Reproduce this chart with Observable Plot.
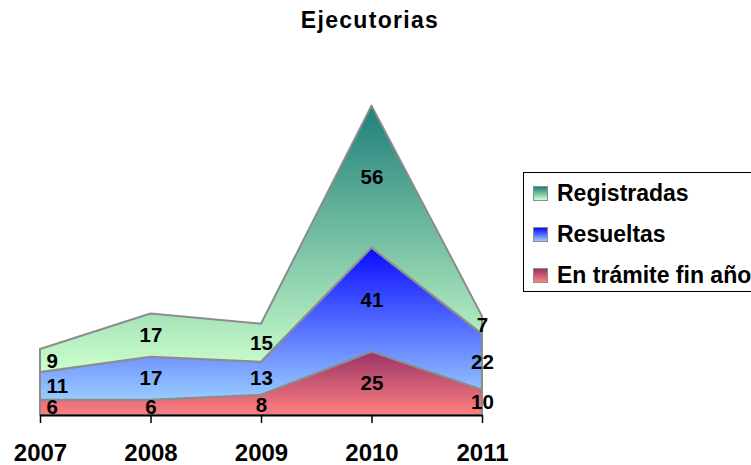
<!DOCTYPE html>
<html>
<head>
<meta charset="utf-8">
<script src="https://cdn.jsdelivr.net/npm/d3@7"></script>
<script src="https://cdn.jsdelivr.net/npm/@observablehq/plot@0.6"></script>
<style>
  html, body { margin: 0; padding: 0; background: #fff; overflow: hidden; }
  #wrap { position: relative; width: 751px; height: 465px; overflow: hidden; font-family: "Liberation Sans", Arial, sans-serif; }
  #title { position: absolute; left: 0; top: 7px; width: 740px; text-align: center; font-weight: bold; font-size: 23px; letter-spacing: 1.3px; color: #000; }
  #legend { position: absolute; left: 523px; top: 172px; width: 260px; height: 120px; border: 1.5px solid #000; background: #fff; box-sizing: border-box; }
  .item { position: absolute; left: 9px; display: flex; align-items: center; font-weight: bold; font-size: 23px; white-space: nowrap; }
  .sw { width: 13px; height: 13px; border: 1.5px solid #8c8c8c; margin-right: 9px; box-sizing: content-box; }
</style>
</head>
<body>
<div id="wrap">
  <div id="chart"></div>
  <div id="title">Ejecutorias</div>
  <div id="legend"></div>
</div>
<script>
// Data
const years = [2007, 2008, 2009, 2010, 2011];
const seriesNames = ["En trámite fin año", "Resueltas", "Registradas"]; // stack order, bottom to top
const enTramite = [6, 6, 8, 25, 10];
const resueltas = [11, 17, 13, 41, 22];
const registradas = [9, 17, 15, 56, 7];
const legendOrder = ["Registradas", "Resueltas", "En trámite fin año"];

// Gradient colours (top -> bottom)
const gradients = {
  "En trámite fin año": ["gRed", "#993366", "#ff8080"],
  "Resueltas": ["gBlue", "#0a0aff", "#99ccff"],
  "Registradas": ["gGreen", "#1f7f7a", "#ccffcc"]
};

const valuesBySeries = {
  "En trámite fin año": enTramite,
  "Resueltas": resueltas,
  "Registradas": registradas
};

// Build stacked table
const table = [];
years.forEach((yr, i) => {
  let base = 0;
  seriesNames.forEach((s) => {
    const v = valuesBySeries[s][i];
    table.push({year: yr, series: s, value: v, y1: base, y2: base + v, mid: base + v / 2, idx: i});
    base += v;
  });
});

const plot = Plot.plot({
  width: 751,
  height: 465,
  marginLeft: 40,
  marginRight: 269,
  marginTop: 60,
  marginBottom: 50,
  style: {fontFamily: "'Liberation Sans', Arial, sans-serif", background: "transparent", overflow: "visible"},
  x: {type: "linear", domain: [2007, 2011], axis: null},
  y: {domain: [0, 140], axis: null},
  color: {type: "ordinal", domain: seriesNames, range: seriesNames.map(s => `url(#${gradients[s][0]})`)},
  marks: [
    Plot.areaY(table, {x: "year", y1: "y1", y2: "y2", z: "series", fill: "series", stroke: "#8c8c8c", strokeWidth: 2, strokeLinejoin: "round"}),
    Plot.ruleY([0], {stroke: "#000", strokeWidth: 2}),
    Plot.axisX({ticks: years, tickFormat: d => String(d), label: null, tickSize: 8, tickPadding: 20, fontSize: 24, fontWeight: "bold", stroke: "#000", strokeWidth: 1.5, fill: "#000"}),
    Plot.text(table.filter(d => d.idx === 0), {x: "year", y: "mid", text: d => String(d.value), textAnchor: "start", dx: 6, fontSize: 20.5, fontWeight: "bold", fill: "#000", lineAnchor: "middle"}),
    Plot.text(table.filter(d => d.idx > 0), {x: "year", y: "mid", text: d => String(d.value), fontSize: 20.5, fontWeight: "bold", fill: "#000", lineAnchor: "middle"})
  ]
});

// gradient defs
const ns = "http://www.w3.org/2000/svg";
const defs = document.createElementNS(ns, "defs");
Object.values(gradients).forEach(([id, top, bottom]) => {
  const lg = document.createElementNS(ns, "linearGradient");
  lg.setAttribute("id", id);
  lg.setAttribute("x1", "0"); lg.setAttribute("y1", "0");
  lg.setAttribute("x2", "0"); lg.setAttribute("y2", "1");
  [[0, top], [1, bottom]].forEach(([o, c]) => {
    const st = document.createElementNS(ns, "stop");
    st.setAttribute("offset", o);
    st.setAttribute("stop-color", c);
    lg.appendChild(st);
  });
  defs.appendChild(lg);
});
plot.insertBefore(defs, plot.firstChild);
document.getElementById("chart").appendChild(plot);

// legend
const legend = document.getElementById("legend");
legendOrder.forEach((s, i) => {
  const [id, top, bottom] = gradients[s];
  const it = document.createElement("div");
  it.className = "item";
  it.style.top = (7 + i * 41) + "px";
  const sw = document.createElement("span");
  sw.className = "sw";
  sw.style.background = `linear-gradient(${top}, ${bottom})`;
  const tx = document.createElement("span");
  tx.textContent = s;
  it.appendChild(sw);
  it.appendChild(tx);
  legend.appendChild(it);
});
</script>
</body>
</html>
